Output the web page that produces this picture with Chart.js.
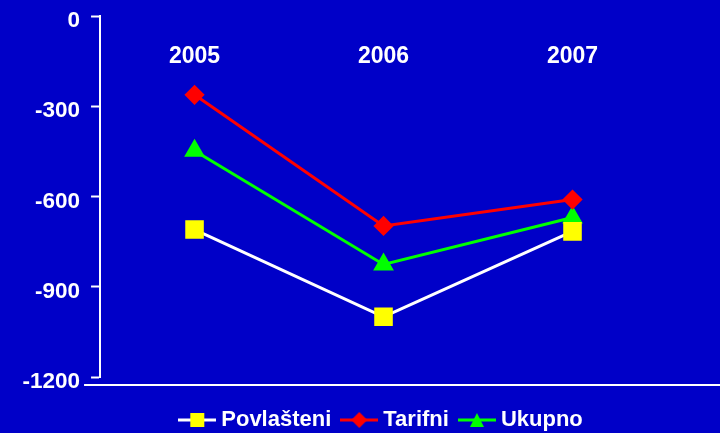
<!DOCTYPE html>
<html>
<head>
<meta charset="utf-8">
<script src="https://cdn.jsdelivr.net/npm/chart.js@4/dist/chart.umd.min.js"></script>
<style>
    html, body { margin: 0; padding: 0; background: #0000C8; }
    #wrap { width: 720px; height: 433px; }
</style>
</head>
<body>
<div id="wrap"><canvas id="chart"></canvas></div>
<script>
const years = ['2005', '2006', '2007'];
const povlasteni = [-710, -1000, -716];
const tarifni = [-262, -698, -610];
const ukupno = [-448, -826, -670];
const yTicks = [0, -300, -600, -900, -1200];

const FONT = '"Liberation Sans", Arial, sans-serif';

// legend swatch: line with marker through it, like the Excel legend
function swatch(lineColor, markerColor, shape) {
    const c = document.createElement('canvas');
    c.width = 38;
    c.height = 16;
    const ctx = c.getContext('2d');
    ctx.strokeStyle = lineColor;
    ctx.lineWidth = 3;
    ctx.beginPath();
    ctx.moveTo(0, 8);
    ctx.lineTo(38, 8);
    ctx.stroke();
    ctx.fillStyle = markerColor;
    ctx.beginPath();
    if (shape === 'rect') {
        ctx.rect(12, 1, 14, 14);
    } else if (shape === 'diamond') {
        ctx.moveTo(19, 0); ctx.lineTo(27, 8); ctx.lineTo(19, 16); ctx.lineTo(11, 8);
    } else {
        ctx.moveTo(19, 1); ctx.lineTo(26, 15); ctx.lineTo(12, 15);
    }
    ctx.closePath();
    ctx.fill();
    return c;
}

const swatches = [
    swatch('#FFFFFF', '#FFFF00', 'rect'),
    swatch('#FF0000', '#FF0000', 'diamond'),
    swatch('#00FF00', '#00FF00', 'triangle')
];

// white rule under the plot, as in the original
const baseLine = {
    id: 'baseLine',
    afterDraw(chart) {
        const { ctx, chartArea } = chart;
        const y = chartArea.bottom + 8;
        ctx.save();
        ctx.strokeStyle = '#FFFFFF';
        ctx.lineWidth = 2;
        ctx.beginPath();
        ctx.moveTo(chartArea.left - 16, y);
        ctx.lineTo(chart.width, y);
        ctx.stroke();
        ctx.restore();
    }
};

new Chart(document.getElementById('chart'), {
    type: 'line',
    data: {
        labels: years,
        datasets: [
            {
                label: 'Povlašteni',
                data: povlasteni,
                borderColor: '#FFFFFF',
                backgroundColor: '#FFFF00',
                pointBackgroundColor: '#FFFF00',
                pointBorderColor: '#FFFF00',
                pointStyle: 'rect',
                pointRadius: 11,
                borderWidth: 3
            },
            {
                label: 'Tarifni',
                data: tarifni,
                borderColor: '#FF0000',
                backgroundColor: '#FF0000',
                pointBackgroundColor: '#FF0000',
                pointBorderColor: '#FF0000',
                pointStyle: 'rectRot',
                pointRadius: 8,
                borderWidth: 3
            },
            {
                label: 'Ukupno',
                data: ukupno,
                borderColor: '#00FF00',
                backgroundColor: '#00FF00',
                pointBackgroundColor: '#00FF00',
                pointBorderColor: '#00FF00',
                pointStyle: 'triangle',
                pointRadius: 9,
                borderWidth: 3
            }
        ]
    },
    options: {
        responsive: true,
        maintainAspectRatio: false,
        animation: false,
        layout: {
            padding: { left: 11.5, right: 53, top: 16, bottom: -8 }
        },
        scales: {
            x: {
                position: { y: 0 },
                offset: true,
                grid: { display: false },
                border: { display: false },
                ticks: {
                    color: '#FFFFFF',
                    padding: 19,
                    font: { family: FONT, size: 23, weight: 'bold' }
                }
            },
            // empty strip that keeps room between the plot and the legend
            xPad: {
                type: 'category',
                position: 'bottom',
                grid: { display: false },
                border: { display: false },
                ticks: { display: false },
                afterFit: (scale) => { scale.height = 17; }
            },
            y: {
                min: -1200,
                max: 0,
                afterBuildTicks: (axis) => {
                    axis.ticks = yTicks.map(v => ({ value: v }));
                },
                afterFit: (scale) => { scale.paddingTop = 0; },
                grid: {
                    drawOnChartArea: false,
                    drawTicks: true,
                    tickLength: 9,
                    tickWidth: 2,
                    color: '#FFFFFF'
                },
                border: { display: true, color: '#FFFFFF', width: 2 },
                ticks: {
                    color: '#FFFFFF',
                    padding: 11,
                    labelOffset: 5,
                    callback: (value) => String(value),
                    font: { family: FONT, size: 22.5, weight: 'bold' }
                }
            }
        },
        plugins: {
            tooltip: { enabled: false },
            legend: {
                position: 'bottom',
                fullSize: false,
                labels: {
                    color: '#FFFFFF',
                    usePointStyle: true,
                    pointStyleWidth: 26,
                    padding: 15,
                    font: { family: FONT, size: 22, weight: 'bold' },
                    generateLabels: (chart) => {
                        const items = Chart.defaults.plugins.legend.labels.generateLabels(chart);
                        return items.map((item, i) => ({ ...item, pointStyle: swatches[i] }));
                    }
                }
            }
        }
    },
    plugins: [baseLine]
});
</script>
</body>
</html>
